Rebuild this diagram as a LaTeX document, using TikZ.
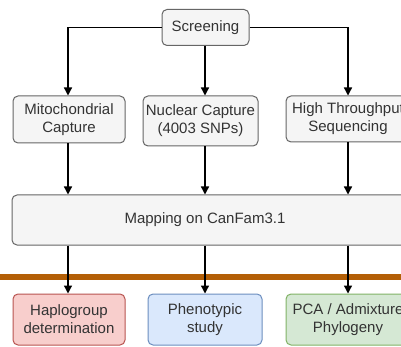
\documentclass[tikz,border=0pt]{standalone}
\usepackage{fontspec}
\setmainfont{Liberation Sans}
\usetikzlibrary{arrows.meta}
\definecolor{greyfill}{HTML}{F5F5F5}
\definecolor{greyline}{HTML}{666666}
\definecolor{redfill}{HTML}{F8CECC}
\definecolor{redline}{HTML}{B85450}
\definecolor{bluefill}{HTML}{DAE8FC}
\definecolor{blueline}{HTML}{6C8EBF}
\definecolor{greenfill}{HTML}{D5E8D4}
\definecolor{greenline}{HTML}{82B366}
\definecolor{divider}{HTML}{B45F06}
\definecolor{txt}{HTML}{333333}
\tikzset{
  box/.style={draw=greyline, fill=greyfill, rounded corners=5pt, line width=1pt,
    align=center, text=txt, inner sep=0pt,
    font=\fontsize{15}{18}\selectfont},
  redbox/.style={box, draw=redline, fill=redfill},
  bluebox/.style={box, draw=blueline, fill=bluefill},
  greenbox/.style={box, draw=greenline, fill=greenfill},
  flow/.style={line width=1.3pt, -{Triangle[width=8pt,length=8pt]}},
  link/.style={line width=1.3pt}
}
\begin{document}
\begin{tikzpicture}[x=1pt,y=-1pt]
  \useasboundingbox (0,0) rectangle (401,347);
  \clip (0,0) rectangle (401,347);
  \fill[white] (0,0) rectangle (401,347);

  % separator between processing and analyses
  \draw[divider, line width=6pt] (0,277) -- (401,277);

  % top: screening
  \node[box, minimum width=87pt, minimum height=36pt] (scr) at (205.5,27.5) {Screening};

  % capture / sequencing methods
  \node[box, minimum width=112pt, minimum height=47pt] (mito) at (69,119.5) {Mitochondrial\\Capture};
  \node[box, minimum width=115pt, minimum height=50pt] (nuc) at (200.5,121) {Nuclear Capture\\(4003 SNPs)};
  \node[box, minimum width=124pt, minimum height=46pt] (hts) at (348,119) {High Throughput\\Sequencing};

  % mapping step
  \node[box, minimum width=408pt, minimum height=50pt] (map) at (216,220) {};
  \node[text=txt, font=\fontsize{15}{18}\selectfont] (maplabel) at (205,220) {Mapping on CanFam3.1};

  % analyses
  \node[redbox, minimum width=112pt, minimum height=51pt] (hap) at (69,319.5) {Haplogroup\\determination};
  \node[bluebox, minimum width=114pt, minimum height=51pt] (phe) at (205,319.5) {Phenotypic\\study};
  \node[greenbox, minimum width=124pt, minimum height=51pt] (pca) at (348,319.5) {PCA / Admixture\\Phylogeny};

  % column guides
  \coordinate (c1) at (68,0);
  \coordinate (c2) at (205,0);
  \coordinate (c3) at (348,0);

  % screening to methods
  \draw[flow] (scr.west) -| (c1 |- mito.north);
  \draw[flow] (c2 |- scr.south) -- (c2 |- nuc.north);
  \draw[flow] (scr.east) -| (c3 |- hts.north);

  % methods to mapping
  \draw[flow] (c1 |- mito.south) -- (c1 |- map.north);
  \draw[flow] (c2 |- nuc.south) -- (c2 |- map.north);
  \draw[flow] (c3 |- hts.south) -- (c3 |- map.north);

  % mapping to analyses
  \draw[flow] (c1 |- map.south) -- (c1 |- hap.north);
  \draw[flow] (c2 |- map.south) -- (c2 |- phe.north);
  \draw[flow] (c3 |- map.south) -- (c3 |- pca.north);
\end{tikzpicture}
\end{document}
